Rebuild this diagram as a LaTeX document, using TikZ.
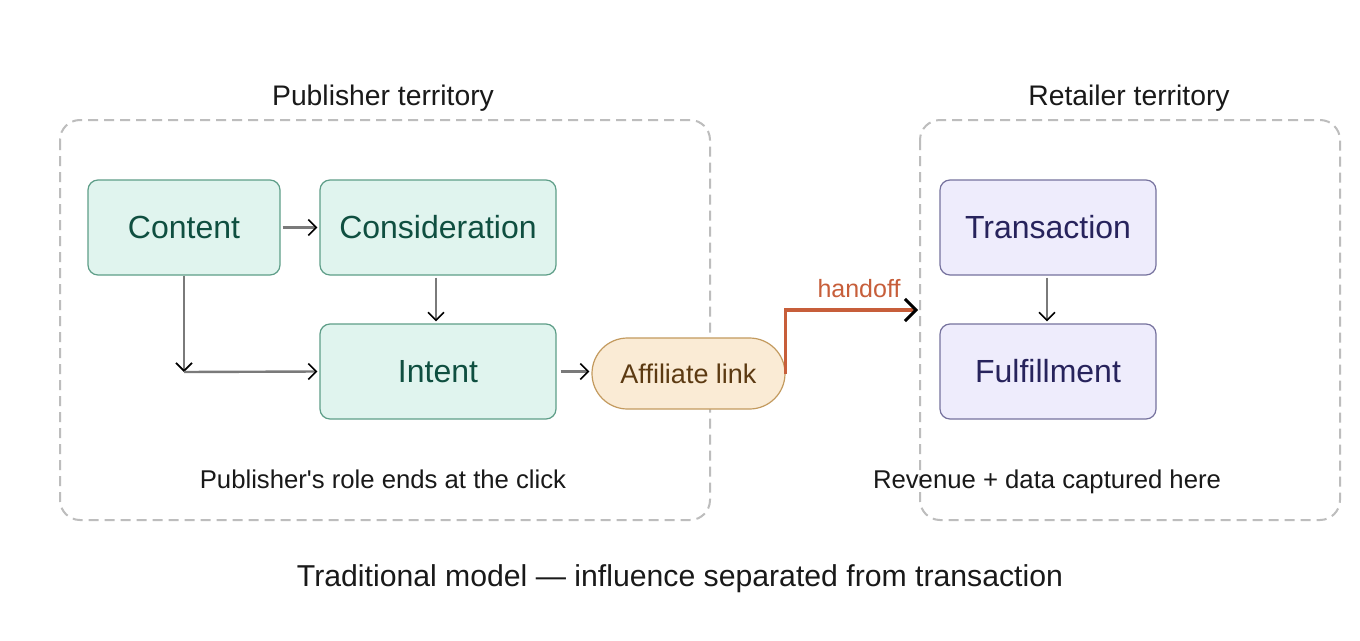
\documentclass[tikz,border=0pt]{standalone}
\usepackage{fontspec}
\setmainfont{Liberation Sans}
\usetikzlibrary{arrows.meta}

\definecolor{greenfill}{HTML}{E0F4EE}
\definecolor{greenline}{HTML}{5E9E88}
\definecolor{greentext}{HTML}{0F4F40}
\definecolor{purplefill}{HTML}{EEECFC}
\definecolor{purpleline}{HTML}{76729E}
\definecolor{purpletext}{HTML}{27235C}
\definecolor{pillfill}{HTML}{FAEBD5}
\definecolor{pillline}{HTML}{C39A5E}
\definecolor{pilltext}{HTML}{5C3A12}
\definecolor{handoffcol}{HTML}{C75E3A}
\definecolor{zonecol}{HTML}{BDBDBD}
\definecolor{flowcol}{HTML}{7A7A7A}

\tikzset{
  zone/.style={draw=zonecol, line width=2pt, dash pattern=on 10pt off 6pt, rounded corners=20pt},
  stage/.style={draw=greenline, fill=greenfill, text=greentext, line width=1.2pt, rounded corners=10pt,
    minimum height=95pt, font=\fontsize{32}{36}\selectfont},
  shop/.style={draw=purpleline, fill=purplefill, text=purpletext, line width=1.2pt, rounded corners=10pt,
    minimum width=216pt, minimum height=95pt, font=\fontsize{32}{36}\selectfont},
  flow/.style={draw=flowcol, line width=2.4pt, -{Straight Barb[length=8pt,width=16pt,line width=1.6pt,color=black]}},
  zonetitle/.style={font=\fontsize{28.3}{32}\selectfont, text=black!90},
  zonenote/.style={font=\fontsize{25.7}{30}\selectfont, text=black!90, text height=0.72em, text depth=0.22em}
}

\begin{document}
\begin{tikzpicture}[x=1pt,y=-1pt]
  \useasboundingbox[fill=white] (0,0) rectangle (1360,640);

  \draw[zone] (60,120) rectangle (710,520);
  \draw[zone] (920,120) rectangle (1340,520);
  \node[zonetitle] (pubtitle) at (383,98) {Publisher territory};
  \node[zonetitle] (rettitle) at (1129,98) {Retailer territory};

  \node[stage, minimum width=192pt] (content) at (184,227.5) {Content};
  \node[stage, minimum width=236pt] (consider) at (438,227.5) {Consideration};
  \node[stage, minimum width=236pt] (intent) at (438,371.5) {Intent};
  \node[draw=pillline, fill=pillfill, text=pilltext, line width=1.2pt, rounded corners=35.5pt,
    minimum width=193pt, minimum height=71pt, font=\fontsize{27}{32}\selectfont] (affiliate) at (688.5,373.5) {Affiliate link};
  \node[shop] (transaction) at (1048,227.5) {Transaction};
  \node[shop] (fulfil) at (1048,371.5) {Fulfillment};
  \coordinate (bend) at (184,372);

  \draw[flow] (content.east) ++(2,0) -- ([xshift=-2pt]consider.west);
  \draw[flow] (consider.south) ++(-2,2) -- ([xshift=-2pt,yshift=2pt]intent.north);
  \draw[flow] (content.south) -- (bend);
  \draw[flow] (bend) -- ([xshift=-2pt]intent.west);
  \draw[flow] ([xshift=4pt]intent.east) -- ([xshift=-2pt]affiliate.west |- intent.east);
  \draw[flow] (transaction.south) ++(-1,2) -- ([xshift=-1pt,yshift=2pt]fulfil.north);

  \coordinate (handin) at (918,310);
  \draw[draw=handoffcol, line width=3.5pt,
    -{Straight Barb[length=11pt,width=22pt,line width=3pt,color=black]}]
    (affiliate.east) |- (handin);
  \node[font=\fontsize{25}{30}\selectfont, text=handoffcol] (handoff) at (859,289) {handoff};

  \node[zonenote] (pubnote) at (383,486) {Publisher\textquotesingle s role ends at the click};
  \node[zonenote] (retnote) at (1047,486) {Revenue + data captured here};
  \node[font=\fontsize{30.2}{35}\selectfont, text=black!90] (caption) at (680,579) {Traditional model — influence separated from transaction};
\end{tikzpicture}
\end{document}
